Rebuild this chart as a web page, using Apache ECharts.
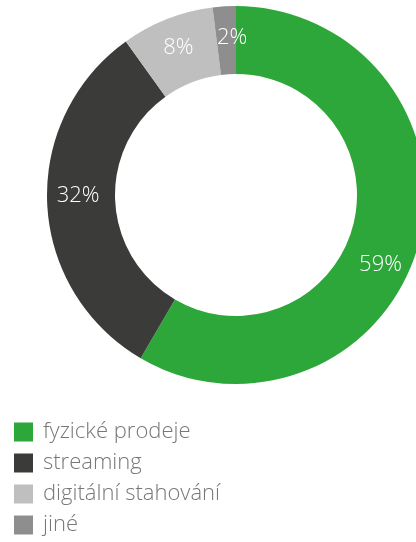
<!DOCTYPE html>
<html>
<head>
<meta charset="utf-8">
<script src="https://cdn.jsdelivr.net/npm/echarts@6/dist/echarts.min.js"></script>
<style>html,body{margin:0;padding:0;background:#fff;}#c{width:416px;height:542px;}</style>
</head>
<body>
<div id="c"></div>
<script>
const categories = ['fyzické prodeje', 'streaming', 'digitální stahování', 'jiné'];
const values = [59, 32, 8, 2];
const colors = ['#2ea73a', '#3b3b39', '#bfbfbf', '#8e8e8e'];
const labelOffsets = [[-8, 28], [0, -7], [0, 0], [6, 0]];

const chart = echarts.init(document.getElementById('c'));
chart.setOption({
  animation: false,
  color: colors,
  legend: {
    orient: 'vertical',
    left: 14,
    top: 421,
    padding: 0,
    height: 300,
    icon: 'rect',
    itemWidth: 19,
    itemHeight: 19,
    itemGap: 9,
    selectedMode: false,
    textStyle: { color: '#777777', fontSize: 22, lineHeight: 22, fontFamily: 'Open Sans', fontWeight: 300, padding: [0, 0, 0, 5] },
    data: categories
  },
  series: [{
    type: 'pie',
    center: [236, 195],
    radius: [121, 189],
    startAngle: 90,
    clockwise: true,
    avoidLabelOverlap: false,
    emphasis: { disabled: true },
    itemStyle: { borderWidth: 0 },
    label: {
      show: true,
      position: 'inside',
      formatter: '{c}%',
      color: '#ffffff',
      fontSize: 22,
      fontFamily: 'Open Sans',
      fontWeight: 300
    },
    labelLine: { show: false },
    data: categories.map((n, i) => ({
      name: n,
      value: values[i],
      label: { offset: labelOffsets[i] }
    }))
  }]
});
</script>
</body>
</html>
